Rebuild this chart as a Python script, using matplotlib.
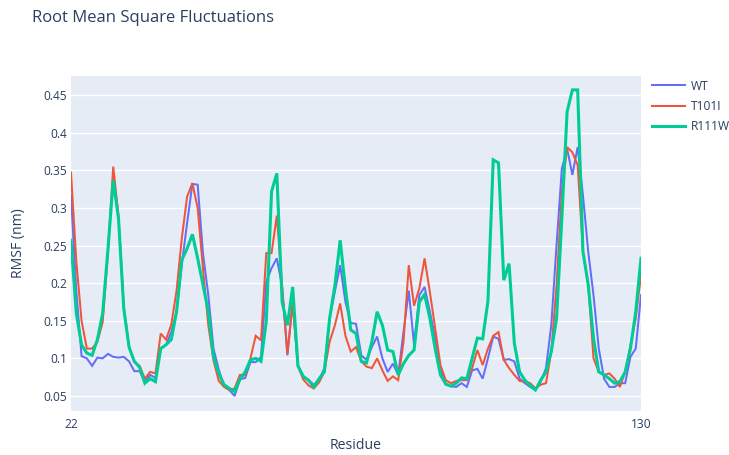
import matplotlib
matplotlib.use("Agg")
import matplotlib.pyplot as plt
import numpy as np

residues = list(range(22, 131))

wt = [0.317, 0.190, 0.103, 0.100, 0.090, 0.101, 0.100, 0.106, 0.102, 0.101,
      0.102, 0.096, 0.083, 0.083, 0.069, 0.078, 0.074, 0.113, 0.118, 0.135,
      0.162, 0.225, 0.280, 0.332, 0.331, 0.240, 0.185, 0.113, 0.085, 0.063,
      0.058, 0.050, 0.072, 0.074, 0.095, 0.095, 0.102, 0.202, 0.220, 0.233,
      0.196, 0.104, 0.174, 0.090, 0.076, 0.071, 0.065, 0.071, 0.087, 0.153,
      0.189, 0.224, 0.175, 0.147, 0.146, 0.104, 0.098, 0.115, 0.129, 0.100,
      0.082, 0.093, 0.078, 0.135, 0.190, 0.118, 0.184, 0.195, 0.162, 0.127,
      0.087, 0.065, 0.063, 0.062, 0.067, 0.062, 0.084, 0.086, 0.073, 0.100,
      0.129, 0.126, 0.098, 0.099, 0.096, 0.073, 0.067, 0.062, 0.058, 0.069,
      0.087, 0.144, 0.251, 0.352, 0.379, 0.344, 0.381, 0.317, 0.242, 0.184,
      0.113, 0.073, 0.062, 0.062, 0.067, 0.067, 0.102, 0.113, 0.184]

t101i = [0.347, 0.230, 0.150, 0.113, 0.113, 0.122, 0.148, 0.240, 0.355, 0.290,
         0.168, 0.115, 0.095, 0.090, 0.073, 0.082, 0.080, 0.133, 0.125, 0.145,
         0.190, 0.260, 0.315, 0.333, 0.300, 0.220, 0.145, 0.097, 0.070, 0.062,
         0.058, 0.060, 0.078, 0.078, 0.100, 0.130, 0.124, 0.240, 0.240, 0.290,
         0.196, 0.106, 0.174, 0.090, 0.072, 0.064, 0.060, 0.068, 0.082, 0.122,
         0.144, 0.173, 0.130, 0.109, 0.115, 0.096, 0.089, 0.087, 0.100, 0.084,
         0.070, 0.076, 0.071, 0.122, 0.224, 0.170, 0.193, 0.233, 0.188, 0.140,
         0.091, 0.071, 0.067, 0.070, 0.071, 0.071, 0.087, 0.111, 0.091, 0.113,
         0.130, 0.135, 0.098, 0.087, 0.078, 0.070, 0.069, 0.067, 0.060, 0.065,
         0.067, 0.109, 0.197, 0.321, 0.381, 0.374, 0.357, 0.242, 0.198, 0.100,
         0.082, 0.078, 0.080, 0.073, 0.062, 0.082, 0.117, 0.153, 0.211]

r111w = [0.257, 0.160, 0.118, 0.107, 0.104, 0.125, 0.160, 0.245, 0.337, 0.286,
         0.166, 0.115, 0.096, 0.088, 0.067, 0.073, 0.069, 0.113, 0.118, 0.125,
         0.162, 0.231, 0.246, 0.265, 0.233, 0.198, 0.163, 0.102, 0.080, 0.065,
         0.060, 0.056, 0.072, 0.082, 0.098, 0.100, 0.096, 0.149, 0.322, 0.346,
         0.175, 0.144, 0.195, 0.090, 0.076, 0.071, 0.062, 0.073, 0.082, 0.153,
         0.197, 0.257, 0.193, 0.138, 0.133, 0.096, 0.094, 0.122, 0.162, 0.144,
         0.111, 0.109, 0.078, 0.093, 0.104, 0.111, 0.175, 0.185, 0.153, 0.113,
         0.078, 0.066, 0.063, 0.067, 0.074, 0.073, 0.100, 0.127, 0.126, 0.176,
         0.364, 0.360, 0.204, 0.226, 0.120, 0.082, 0.071, 0.064, 0.058, 0.071,
         0.082, 0.109, 0.153, 0.286, 0.428, 0.457, 0.457, 0.242, 0.198, 0.127,
         0.082, 0.078, 0.073, 0.067, 0.069, 0.082, 0.113, 0.162, 0.233]

series_names = ["WT", "T101I", "R111W"]
x_ticks = [22, 130]
y_ticks = [0.05, 0.1, 0.15, 0.2, 0.25, 0.3, 0.35, 0.4, 0.45]
y_tick_labels = ["0.05", "0.1", "0.15", "0.2", "0.25", "0.3", "0.35", "0.4", "0.45"]

plt.rcParams['font.family'] = ['Open Sans', 'DejaVu Sans']
TXT = "#2a3f5f"

fig = plt.figure(figsize=(7.29, 4.55), dpi=100)
fig.patch.set_facecolor("white")
ax = fig.add_axes([71/729, 1 - 411/455, 570/729, 335/455])
ax.set_facecolor("#E5ECF6")

colors = ["#636efa", "#EF553B", "#00cc96"]
widths = [1.45, 1.45, 2.2]
for data, name, c, w in zip([wt, t101i, r111w], series_names, colors, widths):
    ax.plot(residues, data, color=c, lw=w, label=name, solid_joinstyle="miter")

ax.set_xlim(22, 130)
ax.set_ylim(0.030, 0.4755)
ax.set_xticks(x_ticks)
ax.set_xticklabels([str(t) for t in x_ticks])
ax.set_yticks(y_ticks)
ax.set_yticklabels(y_tick_labels)
ax.grid(axis="y", color="white", lw=1.0)
ax.set_axisbelow(True)
for s in ax.spines.values():
    s.set_visible(False)
ax.tick_params(axis="both", length=0, labelsize=8.64, labelcolor=TXT)
ax.tick_params(axis="y", pad=3)
ax.tick_params(axis="x", pad=5)

ax.set_xlabel("Residue", fontsize=10.08, color=TXT, labelpad=5)
ax.set_ylabel("RMSF (nm)", fontsize=10.08, color=TXT, labelpad=12)
fig.text(32/729, 1 - 18/455, "Root Mean Square Fluctuations", fontsize=12.0,
         color=TXT, ha="left", va="center")

leg = ax.legend(loc="upper left", bbox_to_anchor=(648/729, 1 - 76/455),
                bbox_transform=fig.transFigure, frameon=False,
                fontsize=8.64, handlelength=2.8, handletextpad=0.45,
                labelspacing=0.62, borderaxespad=0, borderpad=0.3)
for t in leg.get_texts():
    t.set_color(TXT)

fig.savefig("out.png", dpi=100)
